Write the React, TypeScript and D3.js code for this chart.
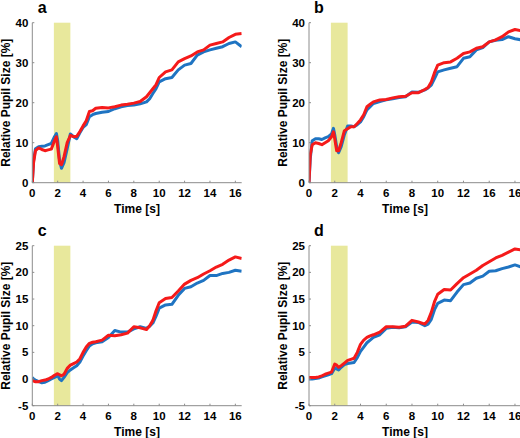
import React from "react";
import * as d3 from "d3";

const TIME = [0, 0.1, 0.25, 0.5, 0.75, 1, 1.25, 1.5, 1.75, 1.9, 2.0, 2.15, 2.3, 2.5, 2.75, 3, 3.25, 3.5, 3.75, 4, 4.25, 4.5, 4.75, 5, 5.5, 6, 6.5, 7, 7.5, 8, 8.5, 9, 9.25, 9.5, 9.75, 10, 10.5, 11, 11.5, 12, 12.5, 13, 13.5, 14, 14.5, 15, 15.5, 16, 16.5];

const A_BLUE = [0, 5.5, 8.5, 9, 9.1, 9.2, 9.5, 9.8, 11.5, 12.3, 10.5, 5.5, 3.6, 5, 8.5, 12.2, 11.5, 11, 12.5, 13.8, 14.5, 16.5, 17, 17.3, 17.6, 17.8, 18.5, 19, 19.3, 19.4, 19.7, 20.2, 21, 22.3, 23.5, 25.2, 26, 26.3, 28.2, 29.4, 29.8, 31.9, 32.7, 33.2, 33.6, 34, 34.8, 35.2, 34];
const A_RED = [0, 5, 8, 8.7, 8.3, 8, 8.2, 8.4, 10.5, 11.5, 9, 4.8, 4.5, 6.5, 10, 11.8, 11.5, 11.6, 12.8, 14.2, 15.5, 17.8, 18, 18.6, 18.8, 18.7, 19, 19.4, 19.6, 19.9, 20.3, 21.5, 22.5, 23.5, 24.5, 26.3, 27.7, 28.2, 30.2, 31, 31.7, 32.7, 33.2, 34.4, 34.8, 35.2, 36.3, 37.1, 37.3];

const B_BLUE = [0, 6, 10.5, 11, 11, 10.8, 11.2, 11.5, 12.2, 13.6, 12, 9, 7.5, 9, 12, 14.2, 14.2, 14, 14.5, 15.2, 16.5, 18.2, 19, 19.8, 20.3, 20.7, 21, 21.3, 21.5, 22.7, 22.6, 23.2, 23.7, 24.4, 26, 27.7, 28.2, 28.6, 29, 31.1, 31.5, 33.2, 33.8, 35.2, 35.6, 35.8, 36.5, 36, 35.7];
const B_RED = [0, 7, 9.5, 10, 9.8, 9.5, 10, 10.5, 11.5, 12.7, 11, 8, 8, 10, 13, 13.5, 14, 14, 14.8, 15.7, 17, 19, 19.6, 20.2, 20.7, 20.8, 21.2, 21.5, 21.6, 22.5, 22.5, 23.3, 23.8, 25.2, 27.5, 29.4, 30, 30.2, 31.1, 32.3, 32.7, 33.6, 34, 35.2, 35.7, 36.5, 37.7, 38.3, 38];

const C_BLUE = [0.3, 0, -0.2, -0.5, -0.7, -0.6, -0.3, 0, 0.3, 0.5, 0.7, 0, -0.3, 0.3, 1.2, 1.7, 2.1, 2.5, 3.2, 4.3, 5.3, 6.2, 6.6, 6.8, 7, 7.8, 9.1, 8.8, 8.8, 9.4, 9.8, 9.5, 9.9, 10.5, 11.8, 13.3, 13.9, 14, 15.7, 17, 17.3, 18, 18.5, 19.4, 19.4, 19.8, 20, 20.4, 20.2];
const C_RED = [-0.2, -0.4, -0.5, -0.5, -0.3, -0.2, 0, 0.3, 0.7, 0.9, 1.0, 0.8, 0.6, 0.9, 2, 2.6, 2.9, 3.2, 3.8, 5, 6, 6.7, 6.9, 7, 7.3, 8.2, 8.1, 8.3, 8.6, 9.8, 9.6, 9.3, 10, 11, 12.8, 14.3, 15.1, 15.3, 16.5, 17.8, 18.5, 19, 19.7, 20.3, 21, 21.5, 22.3, 22.9, 22.6];

const D_BLUE = [0, 0, 0, 0.1, 0.2, 0.4, 0.6, 0.8, 1.0, 1.6, 2.1, 1.9, 1.7, 2.2, 2.7, 2.9, 3.0, 3.1, 4, 5.2, 6, 6.8, 7.3, 7.8, 8.3, 9.5, 9.7, 9.6, 9.8, 10.7, 10.6, 10, 10.3, 11.2, 13, 14.2, 14.8, 14.7, 16.3, 17.7, 18, 18.9, 19.3, 20.2, 20.3, 20.7, 21, 21.4, 21];
const D_RED = [0.3, 0.3, 0.3, 0.3, 0.4, 0.6, 0.9, 1.1, 1.3, 2.2, 2.8, 2.6, 2.2, 2.5, 3.0, 3.5, 3.7, 3.9, 5, 6.5, 7.3, 7.8, 8.1, 8.3, 8.8, 9.8, 9.8, 9.7, 9.9, 11, 10.7, 10.3, 11, 12.5, 14.5, 15.9, 16.8, 16.7, 17.9, 19, 19.7, 20.4, 21.3, 22, 22.7, 23.2, 23.8, 24.4, 24.2];

const X_TICKS = [0, 2, 4, 6, 8, 10, 12, 14, 16];
const X_LABELS = ["0", "2", "4", "6", "8", "10", "12", "14", "16"];
const X_LABELS_B = ["0", "2", "4", "6", "8", "10", "12", "16", "16"];
const Y_TICKS_TOP = [0, 10, 20, 30, 40];
const Y_TICKS_BOTTOM = [-5, 0, 5, 10, 15, 20, 25];
const STIM = [1.7, 3.0];
const X_MAX = 16.5;

const PANELS = [
  { letter: "a", blue: A_BLUE, red: A_RED, xLabels: X_LABELS, yTicks: Y_TICKS_TOP, left: 32.3, right: 241.7, top: 22.7, bottom: 182.7, titleX: 137 },
  { letter: "b", blue: B_BLUE, red: B_RED, xLabels: X_LABELS_B, yTicks: Y_TICKS_TOP, left: 309, right: 521.4, top: 22.7, bottom: 182.7, titleX: 405 },
  { letter: "c", blue: C_BLUE, red: C_RED, xLabels: X_LABELS, yTicks: Y_TICKS_BOTTOM, left: 32.3, right: 241.7, top: 245.7, bottom: 405.7, titleX: 137 },
  { letter: "d", blue: D_BLUE, red: D_RED, xLabels: X_LABELS, yTicks: Y_TICKS_BOTTOM, left: 309, right: 521.4, top: 245.7, bottom: 405.7, titleX: 405 },
];

const FONT = "'Liberation Sans', Arial, Helvetica, sans-serif";
const AXIS_COLOR = "#8c8c8c";
const BLUE = "#1f74c2";
const RED = "#f51a1a";
const SHADE = "#e8e89c";

function Panel({ p, idx }: { p: any; idx: number }) {
  const yDom = [p.yTicks[0], p.yTicks[p.yTicks.length - 1]];
  const x = d3.scaleLinear().domain([0, X_MAX]).range([p.left, p.right]);
  const y = d3.scaleLinear().domain(yDom).range([p.bottom, p.top]);
  const line = d3
    .line<number>()
    .x((_, i) => x(TIME[i]))
    .y((v) => y(v));
  const clipId = `clip-${idx}`;
  return (
    <g>
      <defs>
        <clipPath id={clipId}>
          <rect x={p.left} y={p.top} width={p.right - p.left} height={p.bottom - p.top} />
        </clipPath>
      </defs>
      <rect x={x(STIM[0])} y={y(yDom[1])} width={x(STIM[1]) - x(STIM[0])} height={y(yDom[0]) - y(yDom[1])} fill={SHADE} />
      <g clipPath={`url(#${clipId})`}>
        <path d={line(p.blue) || ""} fill="none" stroke={BLUE} strokeWidth={3} strokeLinejoin="round" />
        <path d={line(p.red) || ""} fill="none" stroke={RED} strokeWidth={3} strokeLinejoin="round" />
      </g>
      <line x1={p.left} x2={p.left} y1={p.top} y2={p.bottom} stroke={AXIS_COLOR} strokeWidth={1} />
      <line x1={p.left} x2={p.right} y1={p.bottom} y2={p.bottom} stroke={AXIS_COLOR} strokeWidth={1} />
      {p.yTicks.map((t: number) => (
        <g key={"y" + t}>
          <line x1={p.left} x2={p.left + 2} y1={y(t)} y2={y(t)} stroke={AXIS_COLOR} />
          <text x={p.left - 4} y={y(t)} dy="0.35em" textAnchor="end" fontSize={11.5} fontWeight="bold" fontFamily={FONT} fill="#000">
            {String(t)}
          </text>
        </g>
      ))}
      {X_TICKS.map((t, i) => (
        <g key={"x" + t}>
          <line x1={x(t)} x2={x(t)} y1={p.bottom} y2={p.bottom - 2} stroke={AXIS_COLOR} />
          <text x={x(t)} y={p.bottom + 14} textAnchor="middle" fontSize={11.5} fontWeight="bold" fontFamily={FONT} fill="#000">
            {p.xLabels[i]}
          </text>
        </g>
      ))}
      <text x={p.titleX} y={p.bottom + 30} textAnchor="middle" fontSize={12} fontWeight="bold" fontFamily={FONT} fill="#000">
        Time [s]
      </text>
      <text
        transform={`translate(${p.left - 22},${(p.top + p.bottom) / 2}) rotate(-90)`}
        textAnchor="middle"
        fontSize={12}
        fontWeight="bold"
        fontFamily={FONT}
        fill="#000"
      >
        Relative Pupil Size [%]
      </text>
      <text x={p.left + 10} y={p.top - 9.5} textAnchor="middle" fontSize={16} fontWeight="bold" fontFamily={FONT} fill="#000">
        {p.letter}
      </text>
    </g>
  );
}

export default function App() {
  return (
    <svg width={520} height={438} style={{ position: "absolute", left: 0, top: 0, background: "#fff" }}>
      <rect width={520} height={438} fill="#fff" />
      {PANELS.map((p, i) => (
        <Panel key={p.letter} p={p} idx={i} />
      ))}
    </svg>
  );
}
